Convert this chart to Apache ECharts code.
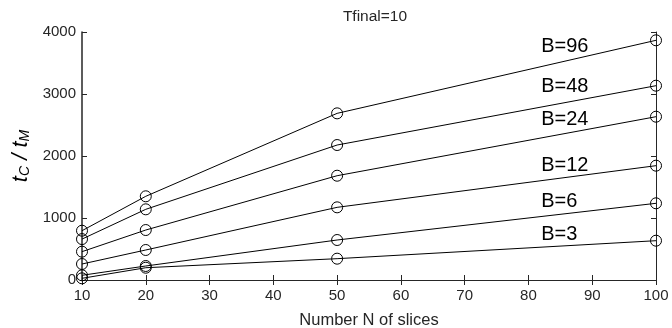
<!DOCTYPE html>
<html>
<head>
<meta charset="utf-8">
<script src="https://cdn.jsdelivr.net/npm/echarts@6/dist/echarts.min.js"></script>
<style>html,body{margin:0;padding:0;background:#fff}#c{width:672px;height:328px}</style>
</head>
<body>
<div id="c"></div>
<script>
const xVals = [10, 20, 50, 100];
const b96 = [795, 1350, 2688, 3866];
const b48 = [660, 1140, 2177, 3134];
const b24 = [457, 806, 1682, 2634];
const b12 = [258, 484, 1172, 1844];
const b6  = [76, 226, 645, 1237];
const b3  = [27, 198, 344, 634];
const seriesNames = ['B=96', 'B=48', 'B=24', 'B=12', 'B=6', 'B=3'];
const labelX = [82, 82, 82, 82, 82, 82];
const labelY = [3774, 3118, 2597, 1855, 1263, 742];
const titleText = 'Tfinal=10';
const xName = 'Number N of slices';

const FONT = '"Liberation Sans", Arial, sans-serif';
const allData = [b96, b48, b24, b12, b6, b3];

const chart = echarts.init(document.getElementById('c'));
const series = allData.map((arr, i) => ({
  name: seriesNames[i],
  type: 'line',
  data: xVals.map((x, j) => [x, arr[j]]),
  symbol: 'circle',
  symbolSize: 11,
  showAllSymbol: true,
  lineStyle: { color: '#000', width: 1 },
  itemStyle: { color: 'rgba(0,0,0,0)', borderColor: '#000', borderWidth: 1 },
  emphasis: { disabled: true },
  animation: false,
  z: 3,
  markPoint: {
    symbol: 'circle', symbolSize: 0,
    animation: false,
    data: [{ coord: [labelX[i], labelY[i]] }],
    label: { show: true, position: 'inside', align: 'left', formatter: seriesNames[i], color: '#000', fontSize: 20, fontFamily: FONT }
  }
}));

const axisCommon = {
  type: 'value',
  axisLine: { show: true, lineStyle: { color: '#262626', width: 1 } },
  axisTick: { show: true, inside: true, length: 5, lineStyle: { color: '#262626' } },
  splitLine: { show: false }
};

chart.setOption({
  animation: false,
  backgroundColor: '#fff',
  title: { text: titleText, left: 370, top: 4, textAlign: 'center',
    textStyle: { fontSize: 15.5, fontWeight: 'normal', color: '#262626', fontFamily: FONT } },
  grid: { left: 82, right: 16, top: 32, bottom: 48, containLabel: false, outerBoundsMode: 'none' },
  xAxis: [
    Object.assign({}, axisCommon, {
      min: 10, max: 100, interval: 10, position: 'bottom',
      name: xName, nameLocation: 'middle', nameGap: 32,
      nameTextStyle: { fontSize: 16.5, color: '#262626', fontFamily: FONT },
      axisLabel: { fontSize: 15, color: '#262626', fontFamily: FONT, margin: 8 }
    }),
    Object.assign({}, axisCommon, {
      min: 10, max: 100, interval: 10, position: 'top',
      axisLabel: { show: false }
    })
  ],
  yAxis: [
    Object.assign({}, axisCommon, {
      min: 0, max: 4000, interval: 1000, position: 'left',
      axisLine: { show: true, lineStyle: { color: '#262626', width: 1.5 } },
      name: '{t|t}{s|C}{t| / t}{s|M}', nameLocation: 'middle', nameGap: 50, nameRotate: 90,
      nameTextStyle: {
        fontFamily: FONT, color: '#000',
        rich: {
          t: { fontSize: 22, fontStyle: 'italic', fontFamily: FONT, color: '#000', verticalAlign: 'bottom', lineHeight: 26 },
          s: { fontSize: 14, fontStyle: 'italic', fontFamily: FONT, color: '#000', verticalAlign: 'bottom', lineHeight: 20 }
        }
      },
      axisLabel: { fontSize: 15, color: '#262626', fontFamily: FONT, margin: 6, formatter: v => String(v) }
    }),
    Object.assign({}, axisCommon, {
      min: 0, max: 4000, interval: 1000, position: 'right',
      axisLabel: { show: false }
    })
  ],
  series: series
});
</script>
</body>
</html>
